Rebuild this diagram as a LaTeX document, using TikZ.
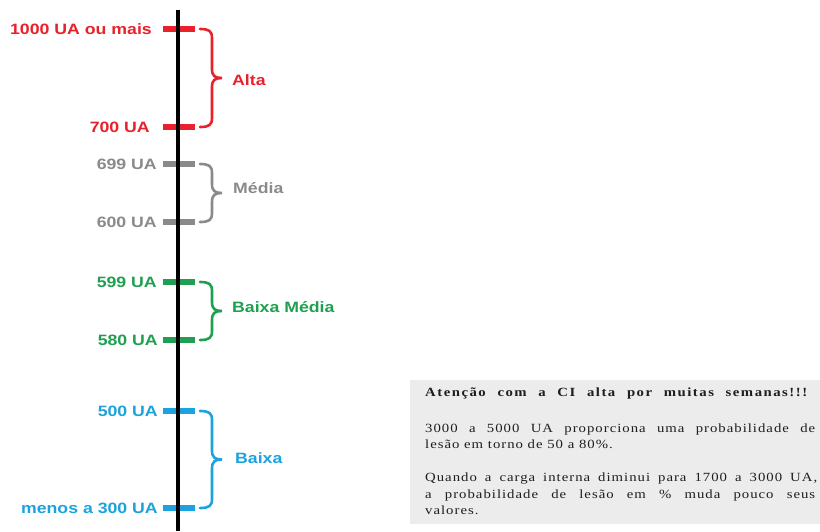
\documentclass[tikz,border=0pt]{standalone}
\usepackage{fontspec}
\setmainfont{Liberation Serif}
\newfontfamily\lblfont[FakeStretch=1.18]{Liberation Sans}
\newfontfamily\bodyfont[FakeStretch=1.18,LetterSpace=8]{Liberation Serif}
\newfontfamily\titlefont[FakeStretch=1.18,LetterSpace=12]{Liberation Serif}
\definecolor{cred}{HTML}{E8212B}
\definecolor{cgray}{HTML}{8A8A8A}
\definecolor{cgreen}{HTML}{1EA050}
\definecolor{cblue}{HTML}{1CA2DE}
\definecolor{boxfill}{HTML}{ECECEC}
\definecolor{txtcol}{HTML}{1E1E1E}
\newcommand{\rangebrace}[3]{%
  \pgfmathsetmacro{\ymid}{(#2+#3)/2}%
  \draw[bracestyle,#1] (200,#2) .. controls (209,#2) and (212,#2+2) .. (212,#2+9)
    -- (212,\ymid-9) .. controls (212,\ymid-2) and (215,\ymid) .. (222,\ymid)
    .. controls (215,\ymid) and (212,\ymid+2) .. (212,\ymid+9)
    -- (212,#3-9) .. controls (212,#3-2) and (209,#3) .. (200,#3);}
\begin{document}
\begin{tikzpicture}[x=1pt,y=-1pt,
  tickmark/.style={line width=6pt},
  axisline/.style={line width=4.5pt,black},
  bracestyle/.style={line width=2.6pt,line cap=round},
  lbl/.style={font=\lblfont\bfseries\fontsize{15}{17}\selectfont,inner sep=0pt},
  leftlbl/.style={lbl,anchor=base east},
  rightlbl/.style={lbl,anchor=base west},
  bodytxt/.style={font=\bodyfont\fontsize{12.5}{14}\selectfont,text=txtcol,inner sep=0pt,anchor=base west},
  titletxt/.style={font=\titlefont\bfseries\fontsize{12.5}{14}\selectfont,text=txtcol,inner sep=0pt,anchor=base west},
  notebox/.style={fill=boxfill,draw=none,inner sep=0pt,minimum width=410pt,minimum height=144pt,anchor=north west}
]
\useasboundingbox (0,0) rectangle (820,531);
\fill[white] (0,0) rectangle (820,531);

% ticks
\draw[tickmark,cred]   (163,29)  -- (195,29);
\draw[tickmark,cred]   (163,127) -- (195,127);
\draw[tickmark,cgray]  (163,164) -- (195,164);
\draw[tickmark,cgray]  (163,222) -- (195,222);
\draw[tickmark,cgreen] (163,282) -- (195,282);
\draw[tickmark,cgreen] (163,340) -- (195,340);
\draw[tickmark,cblue]  (163,411) -- (195,411);
\draw[tickmark,cblue]  (163,508) -- (195,508);

% axis
\coordinate (axtop) at (178,10);
\coordinate (axbot) at (178,531);
\draw[axisline] (axtop) -- (axbot);

% braces
\rangebrace{cred}{29}{127}
\rangebrace{cgray}{164}{222}
\rangebrace{cgreen}{282}{340}
\rangebrace{cblue}{411}{508}

% left labels
\node[leftlbl,text=cred]   (l1000) at (152,34)  {1000 UA ou mais};
\node[leftlbl,text=cred]   (l700)  at (150,132) {700 UA};
\node[leftlbl,text=cgray]  (l699)  at (157,169) {699 UA};
\node[leftlbl,text=cgray]  (l600)  at (157,227) {600 UA};
\node[leftlbl,text=cgreen] (l599)  at (157,287) {599 UA};
\node[leftlbl,text=cgreen] (l580)  at (158,345) {580 UA};
\node[leftlbl,text=cblue]  (l500)  at (158,416) {500 UA};
\node[leftlbl,text=cblue]  (l300)  at (158,513) {menos a 300 UA};

% right labels
\node[rightlbl,text=cred]   (alta)  at (232,85)  {Alta};
\node[rightlbl,text=cgray]  (media) at (233,193) {Média};
\node[rightlbl,text=cgreen] (bmed)  at (232,312) {Baixa Média};
\node[rightlbl,text=cblue]  (baixa) at (235,463) {Baixa};

% note box
\node[notebox] (note) at (410,380) {};
\node[titletxt] (ntitle) at (425,396) {\makebox[382pt][s]{Atenção com a CI alta por muitas semanas!!!}};
\node[bodytxt] (n1) at (425,432)   {\makebox[390pt][s]{3000 a 5000 UA proporciona uma probabilidade de}};
\node[bodytxt] (n2) at (425,448.5) {lesão em torno de 50 a 80\%.};
\node[bodytxt] (n3) at (425,481.5) {\makebox[392pt][s]{Quando a carga interna diminui para 1700 a 3000 UA,}};
\node[bodytxt] (n4) at (425,498)   {\makebox[390pt][s]{a probabilidade de lesão em \% muda pouco seus}};
\node[bodytxt] (n5) at (425,514)   {valores.};
\end{tikzpicture}
\end{document}
